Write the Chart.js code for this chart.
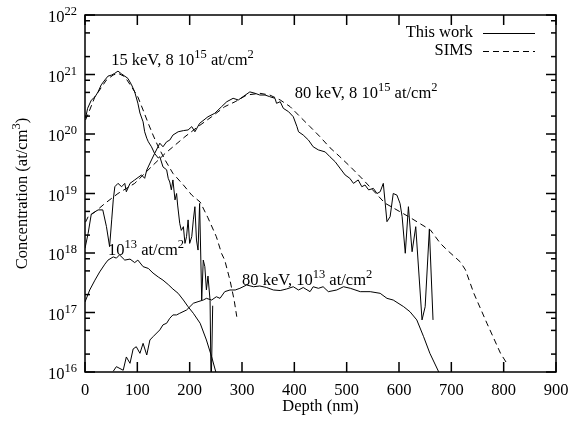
<!DOCTYPE html>
<html>
<head>
<meta charset="utf-8">
<script src="https://cdn.jsdelivr.net/npm/chart.js@4/dist/chart.umd.min.js"></script>
<style>
html,body{margin:0;padding:0;background:#fff;}
canvas{display:block;}
</style>
</head>
<body>
<canvas id="c" width="568" height="426"></canvas>
<script>
// ---- data (depth in nm, concentration in at/cm^3) ----
// 15 keV, 8e15 at/cm2 - This work
const depth15HiWork = [1,5,12,19,25,31,38,44,51,57,63,70,76,82,89,95,101,105,111,114,118,121,127,133,140,143,149,156,159,162,165,168,172,175,177,181,184,188,191,194,197,200,204,207,210,213,216,219,223,226,229,232,235,239,241,244];
const conc15HiWork = [1.84e20,2.7e20,3.7e20,4.2e20,5.1e20,6.7e20,8.1e20,9.4e20,9.8e20,1.05e21,1.14e21,1.02e21,9.4e20,8.6e20,6.7e20,5.1e20,3.3e20,2.25e20,1.6e20,1.09e20,8.5e19,7.4e19,6.1e19,4.7e19,3.95e19,4.15e19,2.8e19,2.5e19,1.8e19,1.56e19,1.15e19,1.69e19,7.8e18,1.0e19,6.4e18,3.15e18,2.4e18,2.77e18,1.45e18,1.88e18,3.6e18,1.45e18,1.88e18,3.6e18,6.0e18,1.65e18,1.12e18,6.8e18,1.62e17,7.6e17,5.9e17,2.4e17,4.1e17,1.6e17,5e15,1.3e17];
// 15 keV, 8e15 at/cm2 - SIMS
const depth15HiSims = [1,9,19,28,41,54,63,76,89,101,111,121,130,140,153,168,188,204,220,235,251,261,267,277,285,290];
const conc15HiSims = [1.72e20,2.53e20,4.24e20,5.5e20,8.1e20,9.8e20,1.05e21,9.2e20,6.2e20,4.2e20,2.53e20,1.5e20,9.6e19,6.1e19,3.66e19,2.18e19,1.39e19,9.4e18,7.2e18,3.9e18,1.88e18,9.8e17,7.6e17,3.5e17,1.62e17,8.5e16];
// 80 keV, 8e15 at/cm2 - This work
const depth80HiWork = [0,6,12,25,34,41,47,51,54,57,63,70,76,79,86,95,108,114,118,127,133,143,149,156,162,168,178,188,197,204,210,219,235,248,261,271,283,293,302,315,325,334,344,353,363,366,373,379,389,398,405,408,417,427,436,446,459,468,478,487,497,506,513,522,529,535,542,551,558,564,570,577,583,589,596,602,606,612,618,625,632,644,650,658,665];
const conc80HiWork = [1.2e18,2.14e18,4.5e18,5.3e18,5.3e18,2.77e18,1.28e18,3.6e18,7.8e18,1.3e19,1.48e19,1.3e19,1.48e19,1.07e19,1.48e19,1.69e19,2.05e19,1.8e19,2.48e19,3.66e19,4.7e19,7.0e19,6.1e19,7.4e19,7.9e19,9.6e19,1.09e20,1.14e20,1.17e20,1.33e20,1.09e20,1.51e20,1.95e20,2.23e20,2.88e20,3.49e20,3.98e20,3.73e20,4.24e20,5.1e20,4.83e20,4.52e20,4.52e20,4.24e20,3.98e20,3.28e20,3.49e20,2.7e20,2.37e20,1.95e20,1.33e20,1.09e20,9.6e19,7.9e19,6.1e19,5.4e19,5.0e19,4.15e19,3.42e19,2.68e19,2.05e19,1.8e19,1.48e19,1.69e19,1.3e19,1.39e19,1.15e19,1.22e19,1.0e19,1.07e19,1.48e19,3.36e18,4.07e18,1.0e19,9.4e18,6.8e18,4.07e18,9.9e17,6.0e18,1.05e18,2.77e18,7.5e16,1.25e17,2.5e18,7.5e16];
// 80 keV, 8e15 at/cm2 - SIMS
const depth80HiSims = [1,6,19,38,63,95,127,153,172,191,216,242,267,287,309,334,353,373,392,411,430,449,468,487,507,532,573,618,660,679,692,717,727,743,768,794,806];
const conc80HiSims = [3.3e18,4.07e18,4.9e18,6.8e18,1.0e19,1.48e19,2.82e19,4.7e19,6.5e19,9.0e19,1.33e20,1.95e20,2.88e20,3.49e20,4.52e20,4.83e20,4.52e20,3.73e20,2.88e20,1.95e20,1.33e20,9.0e19,5.9e19,4.15e19,2.82e19,1.69e19,6.9e18,4.1e18,2.44e18,1.45e18,1.12e18,7.1e17,5.2e17,2.1e17,6.6e16,2.06e16,1.4e16];
// 15 keV, 1e13 at/cm2 - This work
const depth15LoWork = [0,9,19,28,38,44,54,60,66,76,86,95,101,111,121,130,140,149,159,168,178,188,197,207,220,232,242,250];
const conc15LoWork = [1.5e17,2.39e17,3.5e17,4.8e17,6.5e17,7.6e17,8.6e17,8.2e17,9.3e17,7.6e17,7.9e17,6.9e17,7.6e17,5.9e17,5.5e17,4.6e17,3.95e17,3.5e17,2.95e17,2.48e17,2.1e17,1.62e17,1.25e17,9.7e16,6.6e16,3.45e16,1.8e16,1.0e16];
// 80 keV, 1e13 at/cm2 - This work
const depth80LoWork = [54,60,73,79,86,92,98,105,111,118,124,130,143,149,156,162,168,175,181,194,207,216,226,232,242,251,258,267,277,287,296,309,322,334,347,360,373,385,398,408,417,430,436,446,455,465,481,494,507,526,545,564,577,589,609,621,634,647,659,676];
const conc80LoWork = [1.03e16,1.23e16,1.07e16,1.79e16,1.4e16,2.44e16,2.66e16,2.06e16,3.03e16,1.93e16,3.45e16,3.92e16,5.1e16,6.2e16,6.6e16,8.0e16,9.1e16,9.1e16,9.7e16,1.1e17,1.43e17,1.52e17,1.62e17,1.73e17,1.62e17,1.84e17,1.73e17,2.24e17,2.39e17,2.39e17,2.55e17,2.9e17,2.71e17,2.79e17,2.63e17,2.39e17,2.34e17,2.48e17,2.71e17,2.39e17,2.63e17,2.24e17,2.71e17,2.55e17,2.71e17,2.24e17,2.39e17,2.71e17,2.55e17,2.24e17,2.24e17,2.1e17,1.73e17,1.62e17,1.25e17,1.03e17,7.5e16,3.92e16,2.06e16,1.0e16];

// ticks / labels
const xTickValues = [0,100,200,300,400,500,600,700,800,900];
const yTickExponents = [16,17,18,19,20,21,22];
const yMinorMantissas = [2,5,8];
const legendLabels = ['This work','SIMS'];
const xTitle = 'Depth (nm)';
const yTitle = [['Concentration (at/cm',false],['3',true],[')',false]];
const annotations = [
  {x:50, y:1.45e21, parts:[['15 keV, 8 10',false],['15',true],[' at/cm',false],['2',true]]},
  {x:401, y:3.98e20, parts:[['80 keV, 8 10',false],['15',true],[' at/cm',false],['2',true]]},
  {x:44, y:9.3e17, parts:[['10',false],['13',true],[' at/cm',false],['2',true]]},
  {x:300, y:2.9e17, parts:[['80 keV, 10',false],['13',true],[' at/cm',false],['2',true]]}
];

const pts = (xs, cs) => xs.map((v, i) => ({x: v, y: cs[i]}));
const solid = (xs, cs) => ({data: pts(xs, cs), borderColor:'#000', borderWidth:1, pointRadius:0, tension:0, fill:false});
const dashed = (xs, cs) => ({data: pts(xs, cs), borderColor:'#000', borderWidth:1, borderDash:[6,4], pointRadius:0, tension:0, fill:false});

const FONT = '"Liberation Serif", "Times New Roman", serif';
const BASE = '16.5px ' + FONT;
const SUP = '12.5px ' + FONT;

function richWidth(ctx, parts){
  let w = 0;
  parts.forEach(p => { ctx.font = p[1] ? SUP : BASE; w += ctx.measureText(p[0]).width; });
  return w;
}
function rich(ctx, parts, x, y, align){
  const w = richWidth(ctx, parts);
  let cx = align === 'right' ? x - w : (align === 'center' ? x - w / 2 : x);
  ctx.textAlign = 'left';
  ctx.textBaseline = 'alphabetic';
  parts.forEach(p => {
    ctx.font = p[1] ? SUP : BASE;
    ctx.fillText(p[0], cx, p[1] ? y - 7 : y);
    cx += ctx.measureText(p[0]).width;
  });
}
function seg(ctx, x1, y1, x2, y2){
  ctx.beginPath(); ctx.moveTo(x1, y1); ctx.lineTo(x2, y2); ctx.stroke();
}

const overlay = {
  id: 'overlay',
  afterDraw(chart){
    const ctx = chart.ctx, a = chart.chartArea, xs = chart.scales.x, ys = chart.scales.y;
    ctx.save();
    ctx.setLineDash([]);
    // frame
    ctx.strokeStyle = '#000';
    ctx.lineWidth = 1.5;
    ctx.strokeRect(a.left, a.top, a.right - a.left, a.bottom - a.top);
    // inward ticks on all four sides
    ctx.fillStyle = '#000';
    xTickValues.forEach(v => {
      const px = xs.getPixelForValue(v);
      ctx.fillRect(px - 0.75, a.bottom - 10, 1.5, 10);
      ctx.fillRect(px - 0.75, a.top, 1.5, 10);
    });
    yTickExponents.forEach(e => {
      const py = ys.getPixelForValue(Math.pow(10, e));
      ctx.fillRect(a.left, py - 0.75, 10, 1.5);
      ctx.fillRect(a.right - 10, py - 0.75, 10, 1.5);
    });
    yTickExponents.slice(0, -1).forEach(e => {
      yMinorMantissas.forEach(m => {
        const py = ys.getPixelForValue(m * Math.pow(10, e));
        ctx.fillRect(a.left, py - 0.75, 5, 1.5);
        ctx.fillRect(a.right - 5, py - 0.75, 5, 1.5);
      });
    });
    // tick labels
    xTickValues.forEach(v => {
      ctx.font = BASE; ctx.textAlign = 'center'; ctx.textBaseline = 'alphabetic';
      ctx.fillText(String(v), xs.getPixelForValue(v), a.bottom + 23);
    });
    yTickExponents.forEach(e => {
      rich(ctx, [['10', false], [String(e), true]], a.left - 8, ys.getPixelForValue(Math.pow(10, e)) + 7, 'right');
    });
    // axis titles
    ctx.font = BASE; ctx.textAlign = 'center'; ctx.textBaseline = 'alphabetic';
    ctx.fillText(xTitle, (a.left + a.right) / 2, a.bottom + 39);
    ctx.save();
    ctx.translate(27, (a.top + a.bottom) / 2);
    ctx.rotate(-Math.PI / 2);
    rich(ctx, yTitle, 0, 0, 'center');
    ctx.restore();
    // legend
    ctx.lineWidth = 1;
    ctx.font = BASE; ctx.textAlign = 'right'; ctx.textBaseline = 'alphabetic';
    ctx.fillText(legendLabels[0], 473, 37);
    ctx.fillText(legendLabels[1], 473, 55);
    seg(ctx, 483, 33.5, 535, 33.5);
    ctx.setLineDash([6, 4]);
    seg(ctx, 483, 51.5, 535, 51.5);
    ctx.setLineDash([]);
    // annotations
    annotations.forEach(an => {
      rich(ctx, an.parts, xs.getPixelForValue(an.x), ys.getPixelForValue(an.y), 'left');
    });
    ctx.restore();
  }
};

new Chart(document.getElementById('c'), {
  type: 'line',
  data: {
    datasets: [
      solid(depth15HiWork, conc15HiWork),
      dashed(depth15HiSims, conc15HiSims),
      solid(depth80HiWork, conc80HiWork),
      dashed(depth80HiSims, conc80HiSims),
      solid(depth15LoWork, conc15LoWork),
      solid(depth80LoWork, conc80LoWork)
    ]
  },
  options: {
    responsive: false,
    animation: false,
    devicePixelRatio: 1,
    layout: {padding: {left: 85, right: 12, top: 15, bottom: 54}},
    plugins: {legend: {display: false}, tooltip: {enabled: false}},
    scales: {
      x: {type: 'linear', min: 0, max: 900, display: false},
      y: {type: 'logarithmic', min: 1e16, max: 1e22, display: false}
    }
  },
  plugins: [overlay]
});
</script>
</body>
</html>
